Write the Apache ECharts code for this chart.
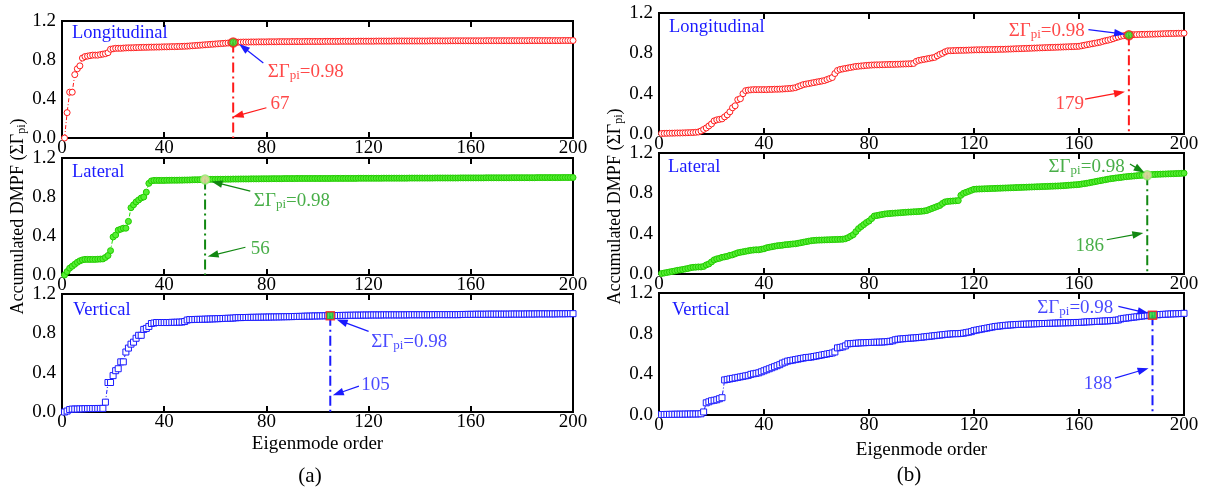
<!DOCTYPE html>
<html><head><meta charset="utf-8">
<script src="https://cdn.jsdelivr.net/npm/echarts@6/dist/echarts.min.js"></script>
<style>html,body{margin:0;padding:0;background:#fff}#c{width:1210px;height:489px}</style>
</head><body><div id="c"></div><script>
// ---------- DATA ----------
const modeOrder = Array.from({length: 200}, (_, i) => i + 1);
const xTicks = [0, 40, 80, 120, 160, 200];
const yTicks = [0.0, 0.4, 0.8, 1.2];
const THRESHOLD = 0.98;
const directions = ['Longitudinal', 'Lateral', 'Vertical'];

// (a) accumulated DMPF
const a_long = [0.00,0.26,0.47,0.47,0.65,0.71,0.74,0.82,0.835,0.84,
0.845,0.85,0.85,0.85,0.855,0.86,0.865,0.875,0.91,0.915,
0.92,0.92,0.92,0.922,0.924,0.925,0.925,0.926,0.927,0.928,
0.929,0.93,0.93,0.931,0.932,0.932,0.933,0.933,0.934,0.935,
0.935,0.936,0.937,0.937,0.938,0.939,0.94,0.941,0.942,0.944,
0.946,0.948,0.95,0.952,0.954,0.956,0.958,0.96,0.962,0.964,
0.966,0.968,0.97,0.972,0.974,0.977,0.98,0.982,0.983,0.983,
0.984,0.984,0.984,0.985,0.985,0.985,0.986,0.986,0.986,0.986,
0.987,0.987,0.987,0.987,0.988,0.988,0.988,0.988,0.988,0.989,
0.989,0.989,0.989,0.989,0.99,0.99,0.99,0.99,0.99,0.99,
0.99,0.99,0.991,0.991,0.991,0.991,0.991,0.991,0.992,0.992,
0.992,0.992,0.992,0.992,0.992,0.993,0.993,0.993,0.993,0.993,
0.993,0.993,0.994,0.994,0.994,0.994,0.994,0.994,0.994,0.995,
0.995,0.995,0.995,0.995,0.995,0.995,0.995,0.995,0.995,0.995,
0.995,0.995,0.995,0.996,0.996,0.996,0.996,0.996,0.996,0.996,
0.996,0.997,0.997,0.997,0.997,0.997,0.997,0.997,0.997,0.997,
0.997,0.997,0.997,0.997,0.997,0.998,0.998,0.998,0.998,0.998,
0.998,0.998,0.998,0.998,0.998,0.998,0.998,0.998,0.998,0.998,
0.998,0.998,0.999,0.999,0.999,0.999,0.999,0.999,0.999,0.999,
0.999,0.999,0.999,0.999,0.999,1.0,1.0,1.0,1.0,1.0];
const a_lat = [0.00,0.035,0.07,0.09,0.11,0.13,0.145,0.155,0.16,0.16,
0.16,0.16,0.16,0.162,0.163,0.165,0.18,0.20,0.25,0.39,
0.41,0.46,0.47,0.48,0.48,0.55,0.69,0.72,0.75,0.77,
0.79,0.80,0.85,0.94,0.965,0.97,0.97,0.97,0.97,0.97,
0.971,0.971,0.972,0.972,0.972,0.973,0.973,0.974,0.974,0.975,
0.976,0.977,0.977,0.978,0.979,0.98,0.98,0.981,0.981,0.981,
0.982,0.982,0.982,0.983,0.983,0.983,0.984,0.984,0.984,0.985,
0.985,0.985,0.985,0.986,0.986,0.986,0.986,0.987,0.987,0.987,
0.987,0.988,0.988,0.988,0.988,0.988,0.989,0.989,0.989,0.989,
0.989,0.99,0.99,0.99,0.99,0.99,0.99,0.99,0.99,0.99,
0.99,0.99,0.99,0.99,0.99,0.991,0.991,0.991,0.991,0.991,
0.991,0.991,0.991,0.991,0.991,0.992,0.992,0.992,0.992,0.992,
0.992,0.992,0.992,0.992,0.992,0.993,0.993,0.993,0.993,0.993,
0.993,0.993,0.993,0.993,0.993,0.994,0.994,0.994,0.994,0.994,
0.994,0.994,0.994,0.994,0.994,0.995,0.995,0.995,0.995,0.995,
0.995,0.995,0.995,0.995,0.995,0.996,0.996,0.996,0.996,0.996,
0.996,0.996,0.996,0.996,0.996,0.997,0.997,0.997,0.997,0.997,
0.997,0.997,0.997,0.997,0.997,0.998,0.998,0.998,0.998,0.998,
0.998,0.998,0.998,0.998,0.998,0.999,0.999,0.999,0.999,0.999,
0.999,0.999,0.999,0.999,0.999,1.0,1.0,1.0,1.0,1.0];
const a_vert = [0.00,0.01,0.025,0.03,0.03,0.03,0.032,0.032,0.034,0.034,
0.035,0.035,0.035,0.036,0.036,0.037,0.10,0.30,0.30,0.37,
0.42,0.44,0.51,0.51,0.61,0.65,0.69,0.71,0.75,0.78,
0.78,0.84,0.85,0.87,0.90,0.905,0.91,0.91,0.91,0.91,
0.91,0.91,0.912,0.912,0.913,0.914,0.915,0.92,0.935,0.94,
0.94,0.941,0.942,0.942,0.943,0.944,0.945,0.946,0.947,0.948,
0.949,0.95,0.951,0.952,0.953,0.954,0.955,0.958,0.96,0.96,
0.961,0.961,0.962,0.962,0.963,0.963,0.964,0.964,0.965,0.965,
0.966,0.966,0.967,0.967,0.968,0.968,0.969,0.969,0.97,0.97,
0.971,0.972,0.972,0.973,0.974,0.975,0.975,0.976,0.977,0.977,
0.978,0.978,0.979,0.979,0.98,0.98,0.981,0.981,0.982,0.982,
0.983,0.983,0.984,0.984,0.985,0.985,0.985,0.986,0.986,0.986,
0.987,0.987,0.987,0.987,0.987,0.988,0.988,0.988,0.988,0.988,
0.988,0.988,0.988,0.988,0.988,0.989,0.989,0.989,0.989,0.989,
0.989,0.989,0.989,0.989,0.989,0.99,0.99,0.99,0.99,0.99,
0.99,0.99,0.99,0.99,0.99,0.991,0.992,0.992,0.993,0.993,
0.993,0.994,0.994,0.994,0.994,0.994,0.995,0.995,0.995,0.995,
0.995,0.995,0.995,0.995,0.995,0.996,0.996,0.996,0.996,0.996,
0.996,0.997,0.997,0.997,0.997,0.998,0.998,0.998,0.998,0.998,
0.998,0.998,0.998,0.999,0.999,0.999,0.999,1.0,1.0,1.0];

// (b) accumulated DMPF
const b_long = [0.005,0.006,0.007,0.008,0.008,0.009,0.01,0.01,0.011,0.012,
0.013,0.014,0.015,0.017,0.02,0.03,0.045,0.06,0.08,0.10,
0.13,0.14,0.145,0.15,0.17,0.19,0.22,0.26,0.28,0.34,
0.35,0.40,0.43,0.435,0.438,0.44,0.44,0.44,0.44,0.44,
0.44,0.442,0.442,0.444,0.444,0.445,0.446,0.448,0.45,0.452,
0.455,0.46,0.47,0.48,0.49,0.495,0.50,0.505,0.51,0.515,
0.52,0.525,0.53,0.54,0.55,0.56,0.60,0.63,0.64,0.645,
0.65,0.655,0.66,0.665,0.67,0.672,0.675,0.677,0.68,0.682,
0.684,0.685,0.686,0.686,0.687,0.688,0.689,0.69,0.69,0.691,
0.692,0.693,0.694,0.695,0.696,0.697,0.70,0.72,0.73,0.735,
0.74,0.745,0.75,0.755,0.76,0.775,0.79,0.80,0.815,0.825,
0.826,0.827,0.828,0.829,0.83,0.83,0.831,0.832,0.833,0.834,
0.835,0.835,0.836,0.836,0.837,0.837,0.838,0.838,0.839,0.84,
0.84,0.841,0.842,0.843,0.844,0.845,0.846,0.847,0.848,0.849,
0.85,0.851,0.852,0.853,0.854,0.855,0.856,0.857,0.858,0.859,
0.86,0.861,0.862,0.863,0.864,0.865,0.866,0.867,0.868,0.87,
0.875,0.88,0.885,0.89,0.895,0.90,0.905,0.91,0.918,0.925,
0.93,0.937,0.945,0.955,0.962,0.97,0.975,0.978,0.98,0.984,
0.985,0.986,0.987,0.988,0.988,0.989,0.99,0.99,0.991,0.992,
0.993,0.994,0.995,0.996,0.997,0.997,0.998,0.999,0.999,1.0];
const b_lat = [0.005,0.01,0.015,0.02,0.025,0.03,0.036,0.04,0.045,0.05,
0.055,0.062,0.066,0.068,0.07,0.07,0.075,0.09,0.10,0.12,
0.14,0.15,0.155,0.165,0.17,0.175,0.185,0.19,0.20,0.21,
0.215,0.22,0.225,0.23,0.235,0.238,0.24,0.24,0.245,0.25,
0.26,0.265,0.27,0.275,0.28,0.283,0.285,0.29,0.292,0.295,
0.298,0.30,0.305,0.31,0.315,0.32,0.325,0.33,0.333,0.335,
0.336,0.337,0.338,0.339,0.34,0.341,0.342,0.343,0.344,0.345,
0.35,0.36,0.375,0.39,0.42,0.45,0.47,0.49,0.51,0.525,
0.55,0.575,0.58,0.585,0.59,0.595,0.598,0.60,0.602,0.604,
0.606,0.608,0.61,0.612,0.614,0.615,0.617,0.618,0.62,0.622,
0.625,0.63,0.64,0.65,0.66,0.67,0.68,0.70,0.715,0.72,
0.722,0.724,0.726,0.728,0.78,0.80,0.81,0.82,0.83,0.84,
0.842,0.843,0.844,0.845,0.846,0.847,0.848,0.849,0.85,0.851,
0.852,0.853,0.854,0.855,0.856,0.857,0.858,0.859,0.86,0.861,
0.862,0.863,0.864,0.865,0.866,0.867,0.868,0.869,0.87,0.871,
0.872,0.873,0.874,0.876,0.878,0.88,0.882,0.884,0.886,0.888,
0.892,0.896,0.90,0.905,0.91,0.915,0.92,0.925,0.93,0.935,
0.94,0.945,0.948,0.952,0.955,0.958,0.962,0.965,0.968,0.97,
0.972,0.975,0.977,0.979,0.981,0.983,0.985,0.987,0.988,0.989,
0.99,0.991,0.992,0.993,0.994,0.995,0.996,0.997,0.998,1.0];
const b_vert = [0.005,0.005,0.006,0.006,0.007,0.007,0.008,0.008,0.008,0.009,
0.009,0.01,0.01,0.01,0.011,0.012,0.03,0.12,0.13,0.14,
0.145,0.15,0.16,0.17,0.345,0.35,0.355,0.36,0.365,0.37,
0.375,0.38,0.385,0.39,0.40,0.405,0.41,0.415,0.425,0.435,
0.445,0.455,0.465,0.475,0.485,0.495,0.51,0.52,0.53,0.535,
0.54,0.545,0.55,0.555,0.56,0.565,0.567,0.57,0.575,0.58,
0.585,0.59,0.595,0.60,0.605,0.61,0.62,0.66,0.665,0.67,
0.68,0.70,0.702,0.704,0.706,0.708,0.71,0.711,0.712,0.713,
0.714,0.715,0.716,0.717,0.718,0.72,0.722,0.725,0.73,0.74,
0.745,0.748,0.75,0.752,0.754,0.756,0.758,0.76,0.762,0.765,
0.768,0.771,0.774,0.777,0.78,0.783,0.786,0.789,0.792,0.795,
0.797,0.799,0.80,0.80,0.802,0.805,0.81,0.815,0.82,0.83,
0.835,0.84,0.845,0.85,0.855,0.86,0.865,0.87,0.873,0.876,
0.879,0.882,0.884,0.886,0.888,0.89,0.891,0.892,0.893,0.894,
0.895,0.896,0.897,0.898,0.899,0.90,0.90,0.901,0.902,0.903,
0.904,0.905,0.906,0.906,0.907,0.908,0.908,0.909,0.91,0.91,
0.912,0.914,0.916,0.917,0.918,0.92,0.921,0.922,0.924,0.925,
0.926,0.928,0.93,0.932,0.935,0.945,0.95,0.953,0.956,0.96,
0.963,0.966,0.97,0.973,0.976,0.979,0.981,0.983,0.985,0.986,
0.988,0.99,0.991,0.993,0.994,0.995,0.996,0.997,0.998,1.0];

// modes needed to reach the threshold
const a_cut = [67, 56, 105];
const b_cut = [179, 186, 188];

// ---------- LAYOUT / STYLE ----------
const FONT = 'Liberation Serif';
const RED = '#ff1a1a', GREEN = '#22dd00', DGREEN = '#1a9a1a', BLUE = '#1a1aff';
const styles = {
  Longitudinal: {symbol:'circle', fill:'#fff', stroke:RED, size:6, line:RED, text:RED,
                 mk:{symbol:'circle', fill:'#22dd22', stroke:RED, size:9}, drop:RED, arrowSum:BLUE, arrowNum:RED},
  Lateral: {symbol:'circle', fill:'#55ee33', stroke:'#22cc00', size:6, line:GREEN, text:DGREEN,
            mk:{symbol:'circle', fill:'#f8d4b4', stroke:'#88ee66', size:9}, drop:'#118811', arrowSum:'#118811', arrowNum:'#118811'},
  Vertical: {symbol:'rect', fill:'#fff', stroke:BLUE, size:6, line:BLUE, text:BLUE,
             mk:{symbol:'rect', fill:'#22dd22', stroke:RED, size:8}, drop:BLUE, arrowSum:BLUE, arrowNum:BLUE}
};
// pixel grid boxes and annotation anchors (in data units)
const panels = [
  {dir:'Longitudinal', vals:a_long, cut:a_cut[0], grid:[62,21,511,117], lab:[72,33],
   sumAt:[80.3,0.68], sumArrow:[[78.8,0.77],[69.3,0.965]], numAt:[81.4,0.35], numArrow:[[80,0.31],[66.8,0.215]]},
  {dir:'Lateral', vals:a_lat, cut:a_cut[1], grid:[62,158,511,117], lab:[72,172],
   sumAt:[74.9,0.754], sumArrow:[[73.7,0.86],[58.5,0.96]], numAt:[73.7,0.267], numArrow:[[71.8,0.285],[57,0.189]]},
  {dir:'Vertical', vals:a_vert, cut:a_cut[2], grid:[62,294,511,118], lab:[73,310],
   sumAt:[120.8,0.713], sumArrow:[[120,0.82],[107.5,0.94]], numAt:[116.9,0.27], numArrow:[[116.2,0.263],[106,0.17]]},
  {dir:'Longitudinal', vals:b_long, cut:b_cut[0], grid:[659,13,525,121], lab:[669,27],
   sumAt:[133,1.02], sumArrow:[[163.6,1.035],[177.6,0.99]], numAt:[150.9,0.30], numArrow:[[162.3,0.345],[177.5,0.42]]},
  {dir:'Lateral', vals:b_lat, cut:b_cut[1], grid:[659,153,525,121], lab:[668,167],
   sumAt:[148.2,1.06], sumArrow:[[179.4,1.09],[185,1.005]], numAt:[158.5,0.28], numArrow:[[170.6,0.34],[184.5,0.407]]},
  {dir:'Vertical', vals:b_vert, cut:b_cut[2], grid:[659,293,525,122], lab:[672,310],
   sumAt:[143.9,1.055], sumArrow:[[175,1.068],[186.5,1.0]], numAt:[161.6,0.305], numArrow:[[173.7,0.362],[186.5,0.46]]}
];

const grids = [], xAxes = [], yAxes = [], series = [], graphics = [];
const labStyle = {fontFamily: FONT, fontSize: 19, color: '#000'};
const sumRich = c => ({
  a: {fontFamily: FONT, fontSize: 19, color: c, lineHeight: 20},
  s: {fontFamily: FONT, fontSize: 13, color: c, lineHeight: 8, verticalAlign: 'bottom'}
});

function arrowRender(colors) {
  return function (params, api) {
    const a = api.coord([api.value(0), api.value(1)]);
    const b = api.coord([api.value(2), api.value(3)]);
    const c = colors[params.dataIndex];
    const dx = b[0] - a[0], dy = b[1] - a[1];
    const L = Math.sqrt(dx * dx + dy * dy) || 1;
    const ux = dx / L, uy = dy / L, hl = 11, hw = 3.8;
    const bx = b[0] - ux * hl, by = b[1] - uy * hl;
    return {type: 'group', children: [
      {type: 'line', shape: {x1: a[0], y1: a[1], x2: bx + ux * 2, y2: by + uy * 2}, style: {stroke: c, lineWidth: 1.2}},
      {type: 'polygon', shape: {points: [[b[0], b[1]], [bx - uy * hw, by + ux * hw], [bx + uy * hw, by - ux * hw]]}, style: {fill: c}}
    ]};
  };
}

panels.forEach((p, i) => {
  const st = styles[p.dir];
  const [gl, gt, gw, gh] = p.grid;
  grids.push({left: gl, top: gt, width: gw, height: gh, show: true, borderColor: '#000', borderWidth: 2, backgroundColor: 'transparent'});
  const isBottom = (i === 2 || i === 5);
  xAxes.push({gridIndex: i, type: 'value', min: xTicks[0], max: xTicks[xTicks.length - 1], interval: xTicks[1] - xTicks[0], position: 'bottom',
    axisLine: {show: true, onZero: false, lineStyle: {color: '#000', width: 2}},
    axisTick: {show: true, inside: true, length: 6, lineStyle: {color: '#000', width: 2}},
    axisLabel: Object.assign({margin: 1}, labStyle), splitLine: {show: false},
    name: isBottom ? 'Eigenmode order' : '', nameLocation: 'middle', nameGap: i === 2 ? 23 : 26,
    nameTextStyle: {fontFamily: FONT, fontSize: 19, color: '#000'}});
  xAxes.push({gridIndex: i, type: 'value', min: xTicks[0], max: xTicks[xTicks.length - 1], interval: xTicks[1] - xTicks[0], position: 'top',
    axisLine: {show: true, onZero: false, lineStyle: {color: '#000', width: 2}},
    axisTick: {show: true, inside: true, length: 6, lineStyle: {color: '#000', width: 2}},
    axisLabel: {show: false}, splitLine: {show: false}});
  const isMid = (i === 1 || i === 4);
  yAxes.push({gridIndex: i, type: 'value', min: yTicks[0], max: yTicks[yTicks.length - 1], interval: yTicks[1] - yTicks[0],
    axisLine: {show: true, onZero: false, lineStyle: {color: '#000', width: 2}},
    axisTick: {show: false},
    axisLabel: Object.assign({margin: 6, formatter: v => v.toFixed(1)}, labStyle), splitLine: {show: false},
    name: isMid ? '{n|Accumulated DMPF (ΣΓ}{s|pi}{n|)}' : '', nameLocation: 'middle', nameGap: 34,
    nameTextStyle: {padding: i === 4 ? [0, 0, 0, 14] : 0,
      rich: {n: {fontFamily: FONT, fontSize: 18, color: '#000', lineHeight: 20},
             s: {fontFamily: FONT, fontSize: 12, color: '#000', lineHeight: 8, verticalAlign: 'bottom'}}}});

  const xi = 2 * i, yi = i;
  // curve
  series.push({type: 'line', xAxisIndex: xi, yAxisIndex: yi, z: 3, silent: true,
    data: modeOrder.map((m, k) => [m, p.vals[k]]),
    symbol: st.symbol, symbolSize: st.size, showAllSymbol: true,
    itemStyle: {color: st.fill, borderColor: st.stroke, borderWidth: 1},
    lineStyle: {color: st.line, width: 1, type: [4, 2, 1, 2]}});
  // drop line
  series.push({type: 'line', xAxisIndex: xi, yAxisIndex: yi, z: 4, silent: true, symbol: 'none',
    data: [[p.cut, THRESHOLD], [p.cut, 0]],
    lineStyle: {color: st.drop, width: 2, type: [10, 4, 2, 4]}});
  // arrows
  series.push({type: 'custom', xAxisIndex: xi, yAxisIndex: yi, z: 7, silent: true, clip: false,
    renderItem: arrowRender([st.arrowSum, st.arrowNum]),
    encode: {x: [0, 2], y: [1, 3]},
    data: [[...p.sumArrow[0], ...p.sumArrow[1]], [...p.numArrow[0], ...p.numArrow[1]]]});
  // threshold marker
  series.push({type: 'scatter', xAxisIndex: xi, yAxisIndex: yi, z: 6, silent: true,
    data: [[p.cut, THRESHOLD]], symbol: st.mk.symbol, symbolSize: st.mk.size,
    itemStyle: {color: st.mk.fill, borderColor: st.mk.stroke, borderWidth: 1.5}});
  // annotation texts
  series.push({type: 'scatter', xAxisIndex: xi, yAxisIndex: yi, z: 7, silent: true,
    symbolSize: 1, itemStyle: {color: 'rgba(0,0,0,0)'},
    data: [
      {value: p.sumAt, label: {show: true, position: 'right', distance: 0, formatter: '{a|ΣΓ}{s|pi}{a|=0.98}', rich: sumRich(st.text)}},
      {value: p.numAt, label: {show: true, position: 'right', distance: 0, formatter: '{a|' + p.cut + '}', rich: sumRich(st.text)}}
    ]});
  graphics.push({type: 'text', x: p.lab[0], y: p.lab[1],
    style: {text: p.dir, fill: BLUE, font: '18.5px "Liberation Serif"', verticalAlign: 'middle', align: 'left'}});
});
graphics.push({type: 'text', x: 310, y: 476, style: {text: '(a)', fill: '#000', font: '21px "Liberation Serif"', align: 'center', verticalAlign: 'middle'}});
graphics.push({type: 'text', x: 909, y: 475, style: {text: '(b)', fill: '#000', font: '21px "Liberation Serif"', align: 'center', verticalAlign: 'middle'}});

const chart = echarts.init(document.getElementById('c'), null, {renderer: 'canvas'});
chart.setOption({
  animation: false, backgroundColor: '#fff',
  grid: grids, xAxis: xAxes, yAxis: yAxes, series: series, graphic: graphics
});
</script></body></html>
